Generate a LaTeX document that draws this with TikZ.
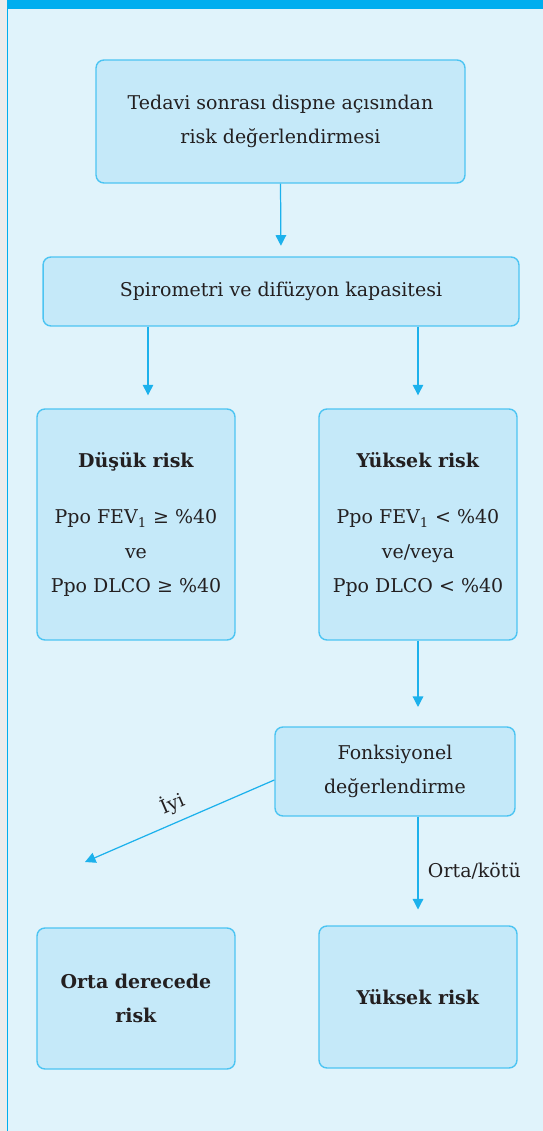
\documentclass[tikz,border=0pt]{standalone}
\usepackage{fontspec}
\setmainfont{DejaVu Serif}
\usetikzlibrary{arrows.meta,positioning}

\definecolor{barblue}{HTML}{00AEEF}
\definecolor{pagebg}{HTML}{E0F3FB}
\definecolor{stripgray}{HTML}{ECECEC}
\definecolor{boxfill}{HTML}{C5E9F9}
\definecolor{boxline}{HTML}{4CC4F2}
\definecolor{arrowblue}{HTML}{1CB1EC}
\definecolor{txt}{HTML}{231F20}

\tikzset{
  box/.style={draw=boxline, line width=0.8pt, fill=boxfill, rounded corners=4.5pt,
    align=center, text=txt, inner sep=0pt, font=\fontsize{10.8}{19.5}\selectfont},
  arr/.style={draw=arrowblue, line width=0.7pt, -{Triangle[length=6pt,width=6pt]}},
  lbl/.style={text=txt, font=\fontsize{10.8}{12}\selectfont}
}

\begin{document}
\begin{tikzpicture}[x=0.02cm,y=-0.02cm]
    \useasboundingbox (0,0) rectangle (543,1131);
    % page background
    \fill[stripgray] (0,0) rectangle (7,1131);
    \fill[pagebg] (7,0) rectangle (543,1131);
    \fill[barblue] (7,0) rectangle (543,9);
    \draw[barblue, line width=0.6pt] (7.5,0) -- (7.5,1131);

    % boxes
    \node[box, minimum width=7.38cm, minimum height=2.46cm] (tedavi) at (280.5,121.5)
        {Tedavi sonrası dispne açısından\\risk değerlendirmesi};
    \node[box, minimum width=9.52cm, minimum height=1.38cm] (spiro) at (281,291.5)
        {Spirometri ve difüzyon kapasitesi};
    \node[box, minimum width=3.96cm, minimum height=4.62cm] (dusuk) at (136,524.5)
        {\textbf{Düşük risk}\\[12.5pt]Ppo FEV\textsubscript{1} ≥ \%40\\ve\\Ppo DLCO ≥ \%40};
    \node[box, minimum width=3.96cm, minimum height=4.62cm] (yuksek) at (418,524.5)
        {\textbf{Yüksek risk}\\[12.5pt]Ppo FEV\textsubscript{1} < \%40\\ve/veya\\Ppo DLCO < \%40};
    \node[box, minimum width=4.8cm, minimum height=1.78cm] (fonk) at (395,771.5)
        {Fonksiyonel\\değerlendirme};
    \node[box, minimum width=3.96cm, minimum height=2.82cm] (orta) at (136,998.5)
        {\textbf{Orta derecede}\\\textbf{risk}};
    \node[box, minimum width=3.96cm, minimum height=2.84cm] (sonuc) at (418,997)
        {\textbf{Yüksek risk}};
    \coordinate (iyiend) at (85,862);

    % connectors
    \draw[arr, shorten >=6pt] (tedavi.south) -- (spiro.north);
    \draw[arr, shorten >=7.4pt] ([xshift=0.24cm]spiro.south -| dusuk.north) -- ([xshift=0.24cm]dusuk.north);
    \draw[arr, shorten >=7.4pt] (spiro.south -| yuksek.north) -- (yuksek.north);
    \draw[arr, shorten >=11pt] (yuksek.south) -- (fonk.north -| yuksek.south);
    \draw[arr] ([yshift=-0.17cm]fonk.west) -- node[lbl, sloped, above=1pt, pos=0.5] {İyi} (iyiend);
    \draw[arr, shorten >=9pt] (fonk.south -| sonuc.north) -- node[lbl, right=2pt] {Orta/kötü} (sonuc.north);
\end{tikzpicture}
\end{document}
